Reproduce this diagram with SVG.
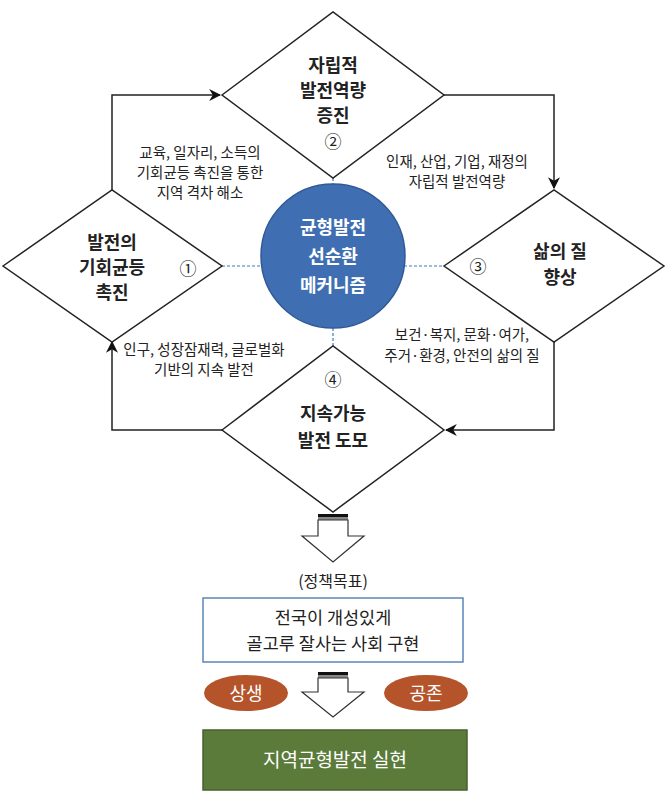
<svg xmlns="http://www.w3.org/2000/svg" width="667" height="801" viewBox="0 0 667 801">
<defs>
<style>
.d{fill:#fff;stroke:#222;stroke-width:1.5}
.t{font-family:"Noto Sans CJK KR",sans-serif;fill:#222;text-anchor:middle}
.b{font-size:18px;font-weight:bold}
.s{font-size:14.5px}
.c{stroke:#222;stroke-width:1.5;fill:none}
.dash{stroke:#3d7cc0;stroke-width:1.2;stroke-dasharray:3,2;fill:none}
.ba{fill:#fff;stroke:#333;stroke-width:1.2}
</style>
<marker id="ah" viewBox="0 0 10 10" refX="9" refY="5" markerWidth="8" markerHeight="8" orient="auto"><path d="M0,0L10,5L0,10L3,5Z" fill="#111"/></marker>
</defs>
<rect width="667" height="801" fill="#fff"/>
<g id="connectors">
<path class="c" d="M112,190V95H220" marker-end="url(#ah)"/>
<path class="c" d="M444,95H554V188" marker-end="url(#ah)"/>
<path class="c" d="M554,340V430H446" marker-end="url(#ah)"/>
<path class="c" d="M222,430H112V342" marker-end="url(#ah)"/>
<path class="dash" d="M222,266H262M404,266H444M333,178V184M333,328V346"/>
</g>
<g id="n1"><polygon class="d" points="3,266 112,190 222,266 112,342"/>
<text class="t b" x="112" y="249">발전의</text><text class="t b" x="112" y="274">기회균등</text><text class="t b" x="112" y="299">촉진</text>
<text class="t" x="188" y="275" font-size="17">①</text></g>
<g id="n2"><polygon class="d" points="222,95 333,12 444,95 333,178"/>
<text class="t b" x="333" y="72">자립적</text><text class="t b" x="333" y="97">발전역량</text><text class="t b" x="333" y="122">증진</text>
<text class="t" x="333" y="148" font-size="17">②</text></g>
<g id="n3"><polygon class="d" points="444,266 554,190 664,266 554,342"/>
<text class="t b" x="560" y="258">삶의 질</text><text class="t b" x="560" y="284">향상</text>
<text class="t" x="478" y="273" font-size="17">③</text></g>
<g id="n4"><polygon class="d" points="222,430 333,346 444,430 333,512"/>
<text class="t b" x="333" y="420">지속가능</text><text class="t b" x="333" y="447">발전 도모</text>
<text class="t" x="333" y="386" font-size="17">④</text></g>
<g id="center"><circle cx="333" cy="256" r="72" fill="#3f6fb2" stroke="#2f5a96" stroke-width="1.5"/>
<text class="t b" x="333" y="234" style="fill:#fff" font-size="21">균형발전</text>
<text class="t b" x="333" y="263" style="fill:#fff" font-size="21">선순환</text>
<text class="t b" x="333" y="292" style="fill:#fff" font-size="21">메커니즘</text></g>
<g id="labels">
<text class="t s" x="200" y="158">교육, 일자리, 소득의</text>
<text class="t s" x="200" y="178">기회균등 촉진을 통한</text>
<text class="t s" x="200" y="198">지역 격차 해소</text>
<text class="t s" x="457" y="167">인재, 산업, 기업, 재정의</text>
<text class="t s" x="457" y="187">자립적 발전역량</text>
<text class="t s" x="204" y="355">인구, 성장잠재력, 글로벌화</text>
<text class="t s" x="204" y="375">기반의 지속 발전</text>
<text class="t s" x="462" y="340">보건·복지, 문화·여가,</text>
<text class="t s" x="462" y="361">주거·환경, 안전의 삶의 질</text>
</g>
<g id="arrow1"><rect x="318" y="514" width="30" height="3" fill="#111"/><rect x="318" y="517" width="30" height="3" fill="#888"/>
<path class="ba" d="M318,520H348V536H364L333,562L302,536H318Z"/></g>
<text class="t" x="333" y="587" font-size="16">(정책목표)</text>
<g id="goal"><rect x="203" y="598" width="260" height="64" fill="#fff" stroke="#5a86b8" stroke-width="1.5"/>
<text class="t" x="333" y="624" font-size="17.5">전국이 개성있게</text><text class="t" x="333" y="650" font-size="17.5">골고루 잘사는 사회 구현</text></g>
<g id="arrow2"><rect x="318" y="672" width="30" height="3" fill="#111"/><rect x="318" y="675" width="30" height="3" fill="#888"/>
<path class="ba" d="M318,678H348V692H364L333,717L302,692H318Z"/></g>
<g id="e1"><ellipse cx="246" cy="693" rx="42" ry="18" fill="#b5542b"/><text class="t" x="246" y="700" font-size="18" style="fill:#fff">상생</text></g>
<g id="e2"><ellipse cx="426" cy="693" rx="42" ry="18" fill="#b5542b"/><text class="t" x="426" y="700" font-size="18" style="fill:#fff">공존</text></g>
<g id="final"><rect x="203" y="730" width="264" height="60" fill="#5b7b3a" stroke="#45622c" stroke-width="1.5"/>
<text class="t" x="335" y="767" font-size="19" style="fill:#fff">지역균형발전 실현</text></g>
</svg>
